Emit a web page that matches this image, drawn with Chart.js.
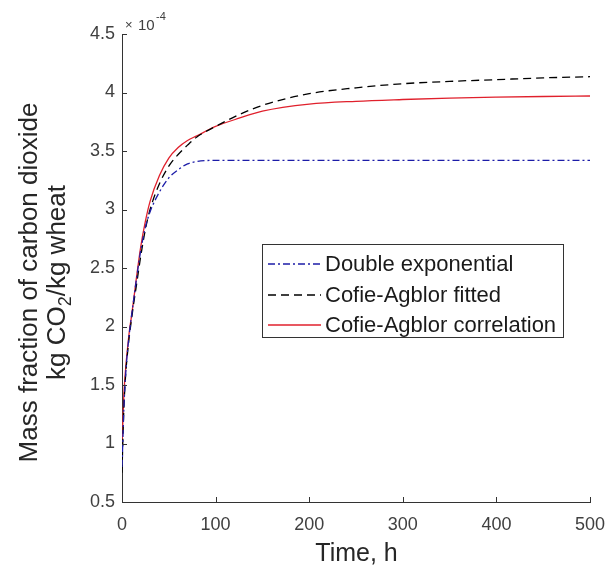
<!DOCTYPE html>
<html>
<head>
<meta charset="utf-8">
<script src="https://cdn.jsdelivr.net/npm/chart.js@4.4.0/dist/chart.umd.min.js"></script>
<style>
html,body{margin:0;padding:0;background:#fff;}
#wrap{position:relative;width:607px;height:567px;}
</style>
</head>
<body>
<div id="wrap"><canvas id="c" width="607" height="567"></canvas></div>
<script>
const timeH = [0,1,2,4,6,8,10,12,15,20,25,30,40,50,60,70,80,100,125,150,200,250,300,350,400,450,500];
const doubleExp = [0.80,1.05,1.30,1.60,1.80,1.95,2.08,2.20,2.38,2.65,2.85,2.98,3.15,3.27,3.34,3.39,3.41,3.42,3.42,3.42,3.42,3.42,3.42,3.42,3.42,3.42,3.42];
const cofieFitted = [0.75,1.05,1.30,1.60,1.78,1.93,2.05,2.17,2.33,2.60,2.83,3.00,3.22,3.37,3.47,3.55,3.62,3.71,3.81,3.89,3.99,4.04,4.075,4.095,4.11,4.125,4.135];
const cofieCorr = [1.00,1.20,1.42,1.65,1.82,1.97,2.08,2.20,2.39,2.68,2.90,3.07,3.29,3.44,3.53,3.59,3.63,3.71,3.78,3.84,3.90,3.925,3.94,3.952,3.96,3.966,3.97];
const seriesNames = ['Double exponential','Cofie-Agblor fitted','Cofie-Agblor correlation'];
const xTicks = [0,100,200,300,400,500];
const yTicks = [0.5,1,1.5,2,2.5,3,3.5,4,4.5];
const xTitle = 'Time, h';
const yTitle1 = 'Mass fraction of carbon dioxide';
const yTitle2a = 'kg CO', yTitle2sub = '2', yTitle2b = '/kg wheat';

const axisColor = '#333333';
const FONT = '"Liberation Sans", Arial, sans-serif';

function pts(ys){ return timeH.map((t,i)=>({x:t,y:ys[i]})); }

const styles = [
  {color:'#1c1ca8', dash:[7,3,2,3]},
  {color:'#000000', dash:[8,5]},
  {color:'#e0202c', dash:[]}
];

const extras = {
  id:'extras',
  afterDraw(chart){
    const ctx = chart.ctx;
    const xs = chart.scales.x, ys = chart.scales.y;
    const ca = chart.chartArea;
    ctx.save();
    ctx.strokeStyle = axisColor;
    ctx.lineWidth = 1;
    xTicks.forEach(v=>{
      const px = Math.round(xs.getPixelForValue(v))+0.5;
      ctx.beginPath(); ctx.moveTo(px, ca.bottom); ctx.lineTo(px, ca.bottom-5); ctx.stroke();
    });
    yTicks.forEach(v=>{
      const py = Math.round(ys.getPixelForValue(v))+0.5;
      ctx.beginPath(); ctx.moveTo(ca.left, py); ctx.lineTo(ca.left+5, py); ctx.stroke();
    });
    ctx.fillStyle = '#404040';
    ctx.textBaseline = 'alphabetic';
    ctx.textAlign = 'left';
    ctx.font = '13px ' + FONT;
    ctx.fillText('\u00d7', ca.left+3, ca.top-5);
    ctx.font = '15px ' + FONT;
    ctx.fillText('10', ca.left+16, ca.top-4);
    ctx.font = '11px ' + FONT;
    ctx.fillText('-4', ca.left+34, ca.top-14);

    ctx.fillStyle = '#262626';
    ctx.font = '25px ' + FONT;
    ctx.textAlign = 'center';
    ctx.fillText(xTitle, (ca.left+ca.right)/2 + 0.5, 561);

    ctx.save();
    ctx.translate(0, 282.5);
    ctx.rotate(-Math.PI/2);
    ctx.font = '26px ' + FONT;
    ctx.textAlign = 'center';
    ctx.fillText(yTitle1, 0, 37);
    const fMain = '26px ' + FONT, fSub = '18px ' + FONT;
    ctx.font = fMain; const wa = ctx.measureText(yTitle2a).width; const wb = ctx.measureText(yTitle2b).width;
    ctx.font = fSub; const ws = ctx.measureText(yTitle2sub).width;
    const total = wa + ws + wb;
    let sx = -total/2;
    ctx.textAlign = 'left';
    ctx.font = fMain; ctx.fillText(yTitle2a, sx, 65); sx += wa;
    ctx.font = fSub; ctx.fillText(yTitle2sub, sx, 71); sx += ws;
    ctx.font = fMain; ctx.fillText(yTitle2b, sx, 65);
    ctx.restore();

    const bx = 262, by = 244, bw = 301, bh = 93;
    ctx.fillStyle = '#fff';
    ctx.fillRect(bx, by, bw, bh);
    ctx.strokeStyle = '#333';
    ctx.lineWidth = 1;
    ctx.strokeRect(bx+0.5, by+0.5, bw, bh);
    const rows = [264, 295, 325];
    rows.forEach((ry,i)=>{
      ctx.strokeStyle = styles[i].color;
      ctx.setLineDash(styles[i].dash);
      ctx.lineWidth = 1.3;
      ctx.beginPath(); ctx.moveTo(268, ry); ctx.lineTo(321, ry); ctx.stroke();
      ctx.setLineDash([]);
      ctx.fillStyle = '#1a1a1a';
      ctx.font = '22px ' + FONT;
      ctx.textAlign = 'left';
      ctx.textBaseline = 'middle';
      ctx.fillText(seriesNames[i], 325, ry+1);
    });
    ctx.restore();
  }
};

new Chart(document.getElementById('c'), {
  type:'line',
  data:{
    datasets:[
      {label:seriesNames[0], data:pts(doubleExp), borderColor:styles[0].color, borderDash:styles[0].dash, borderWidth:1.3, pointRadius:0, cubicInterpolationMode:'monotone', fill:false},
      {label:seriesNames[1], data:pts(cofieFitted), borderColor:styles[1].color, borderDash:styles[1].dash, borderWidth:1.3, pointRadius:0, cubicInterpolationMode:'monotone', fill:false},
      {label:seriesNames[2], data:pts(cofieCorr), borderColor:styles[2].color, borderDash:styles[2].dash, borderWidth:1.3, pointRadius:0, cubicInterpolationMode:'monotone', fill:false}
    ]
  },
  options:{
    responsive:false,
    animation:false,
    layout:{padding:{top:34,right:0,left:0,bottom:0}},
    plugins:{legend:{display:false}, tooltip:{enabled:false}},
    scales:{
      x:{
        type:'linear', min:0, max:500,
        afterBuildTicks(s){ s.ticks = xTicks.map(v=>({value:v})); },
        afterFit(s){ s.height = 65; s.paddingRight = 17; },
        grid:{display:false, drawTicks:false},
        border:{display:true, color:axisColor, width:1},
        ticks:{color:'#404040', font:{family:FONT, size:18}, padding:12, maxRotation:0},
        title:{display:false}
      },
      y:{
        type:'linear', min:0.5, max:4.5,
        afterBuildTicks(s){ s.ticks = yTicks.map(v=>({value:v})); },
        afterFit(s){ s.width = 122; },
        grid:{display:false, drawTicks:false},
        border:{display:true, color:axisColor, width:1},
        ticks:{color:'#404040', font:{family:FONT, size:18}, padding:7, callback:(v)=>String(v)},
        title:{display:false}
      }
    }
  },
  plugins:[extras]
});
</script>
</body>
</html>
